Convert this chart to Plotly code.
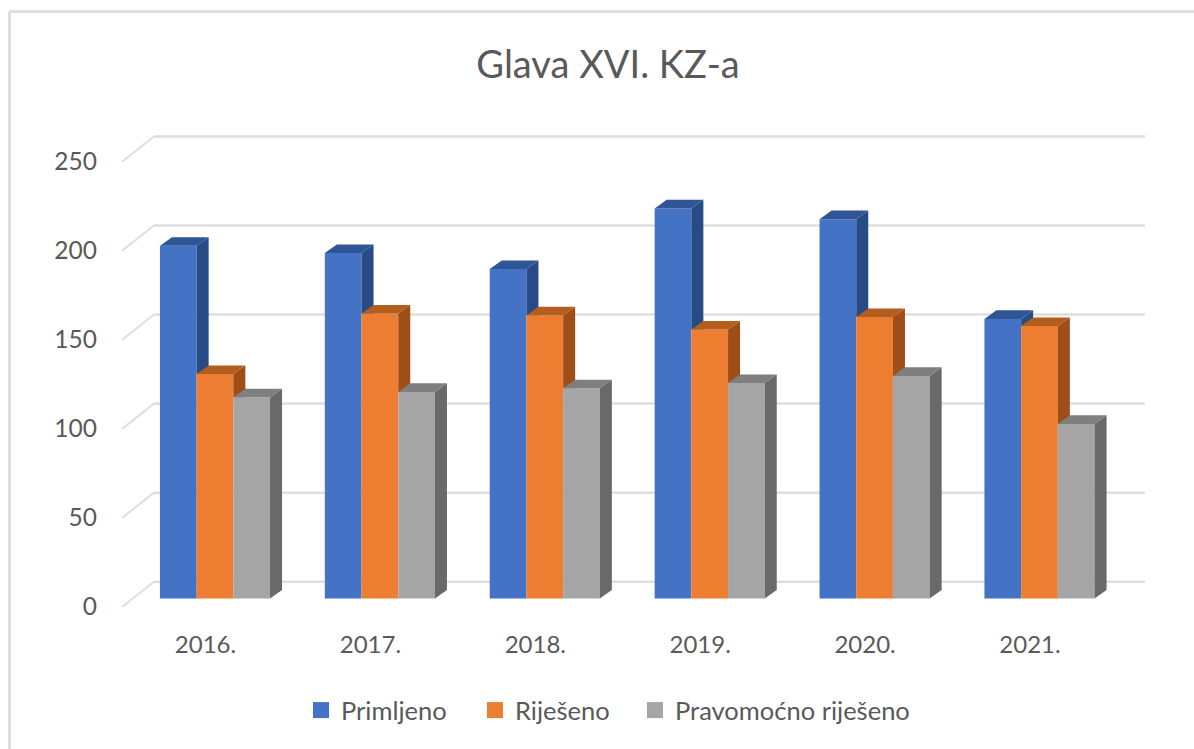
import plotly.graph_objects as go

# ---- data ----
years = ["2016.", "2017.", "2018.", "2019.", "2020.", "2021."]
primljeno = [198, 194, 185, 219, 213, 157]
rijeseno = [126, 160, 159, 151, 158, 153]
pravomocno = [113, 116, 118, 121, 125, 98]
y_ticks = [0, 50, 100, 150, 200, 250]
series_names = ["Primljeno", "Riješeno", "Pravomoćno riješeno"]

# ---- styles ----
front_colors = ["#4472C4", "#ED7D31", "#A5A5A5"]
top_colors = ["#2F5597", "#B35D1F", "#7F7F7F"]
side_colors = ["#274B85", "#9E4E17", "#696969"]
TEXT = "#595959"
GRID = "#DEDEDE"
FONT = "Lato"

# ---- pseudo-3D geometry (in axis units) ----
W, H = 1194, 749
PLOT_L, PLOT_R, PLOT_T, PLOT_B = 122, 1145, 130, 607
X_UNIT = 164.9           # px per category
Y_UNIT = 1.781           # px per value
X0_PX, BASE_PX = 215, 598.5
BAR_W = 36.7 / X_UNIT
DX = 12 / X_UNIT         # bar depth
DY = 8.6 / Y_UNIT
XR = [(PLOT_L - X0_PX) / X_UNIT, (PLOT_R - X0_PX) / X_UNIT]
YR = [(BASE_PX - PLOT_B) / Y_UNIT, (BASE_PX - PLOT_T) / Y_UNIT]
WALL_X = (154 - X0_PX) / X_UNIT
WALL_DY = (BASE_PX - 581.7) / Y_UNIT
FRONT_DY = (BASE_PX - PLOT_B) / Y_UNIT
LABEL_SHIFT = 9.5 / X_UNIT
LEGEND_LEFTS = [301, 475, 635]
LEGEND_TOP = 687

all_series = [primljeno, rijeseno, pravomocno]
idx = list(range(len(years)))

fig = go.Figure()

# front faces
for k, vals in enumerate(all_series):
    fig.add_trace(go.Bar(x=idx, y=vals, name=series_names[k], marker_color=front_colors[k],
                         marker_line_width=0, showlegend=False, offsetgroup=str(k)))

# side and top faces, painted in series order
for k, vals in enumerate(all_series):
    sx, sy, tx, ty = [], [], [], []
    for i, h in enumerate(vals):
        x0 = i + (k - 1.5) * BAR_W
        x1 = x0 + BAR_W
        low = all_series[k + 1][i] if k + 1 < len(all_series) else 0
        if h > low or k + 1 == len(all_series):
            low_right = low if low > 0 else DY
            sx += [x1, x1 + DX, x1 + DX, x1, x1, None]
            sy += [low, low_right, h + DY, h, low, None]
        tx += [x0, x0 + DX, x1 + DX, x1, x0, None]
        ty += [h, h + DY, h + DY, h, h, None]
    fig.add_trace(go.Scatter(x=sx, y=sy, mode="lines", line_width=0, fill="toself",
                             fillcolor=side_colors[k], hoverinfo="skip", showlegend=False))
    fig.add_trace(go.Scatter(x=tx, y=ty, mode="lines", line_width=0, fill="toself",
                             fillcolor=top_colors[k], hoverinfo="skip", showlegend=False))

# legend entries, one legend each so that every entry keeps its own place
legend_keys = ["legend", "legend2", "legend3"]
for k, name in enumerate(series_names):
    fig.add_trace(go.Scatter(x=[None], y=[None], mode="markers", name=name, legend=legend_keys[k],
                             marker=dict(symbol="square", size=16, color=front_colors[k])))

# back wall gridlines and their diagonal floor-side returns
shapes = []
for t in y_ticks:
    shapes.append(dict(type="line", layer="below", xref="x", yref="y", x0=WALL_X, x1=XR[1],
                       y0=t + WALL_DY, y1=t + WALL_DY, line=dict(color=GRID, width=2.5)))
    shapes.append(dict(type="line", layer="below", xref="x", yref="y", x0=XR[0], x1=WALL_X,
                       y0=t + FRONT_DY, y1=t + WALL_DY, line=dict(color=GRID, width=2)))

# outer frame of the chart, running off the picture on the right and bottom
def px_x(p):
    return (p - PLOT_L) / (PLOT_R - PLOT_L)
def px_y(p):
    return (PLOT_B - p) / (PLOT_B - PLOT_T)
shapes.append(dict(type="line", xref="paper", yref="paper", x0=px_x(9.5), x1=px_x(W),
                   y0=px_y(11.5), y1=px_y(11.5), line=dict(color="#DEDEDE", width=3)))
shapes.append(dict(type="line", xref="paper", yref="paper", x0=px_x(9.5), x1=px_x(9.5),
                   y0=px_y(11.5), y1=px_y(H), line=dict(color="#DEDEDE", width=3)))

def legend_at(left):
    return dict(orientation="h", x=px_x(left), xanchor="left", y=px_y(LEGEND_TOP), yanchor="top",
                font=dict(family=FONT, size=25.5, color=TEXT), bgcolor="rgba(0,0,0,0)",
                itemwidth=30, itemclick=False, itemdoubleclick=False)

fig.update_layout(
    width=W, height=H, autosize=False,
    margin=dict(l=PLOT_L, r=W - PLOT_R, t=PLOT_T, b=H - PLOT_B, pad=0),
    paper_bgcolor="white", plot_bgcolor="rgba(0,0,0,0)",
    barmode="group", bargap=1 - 3 * BAR_W, bargroupgap=0,
    shapes=shapes,
    title=dict(text="Glava XVI. KZ-a", x=608 / W, xanchor="center", xref="container",
               y=1 - 65 / H, yanchor="middle", yref="container",
               font=dict(family=FONT, size=38, color=TEXT)),
    legend=legend_at(LEGEND_LEFTS[0]),
    legend2=legend_at(LEGEND_LEFTS[1]),
    legend3=legend_at(LEGEND_LEFTS[2]),
    xaxis=dict(range=XR, tickmode="array", tickvals=[i - LABEL_SHIFT for i in idx], ticktext=years,
               showgrid=False, zeroline=False, showline=False, ticks="",
               ticklabelstandoff=21, tickfont=dict(family=FONT, size=24, color=TEXT)),
    yaxis=dict(range=YR, tickmode="array", tickvals=[t - 4.5 for t in y_ticks],
               ticktext=[str(t) for t in y_ticks],
               showgrid=False, zeroline=False, showline=False, ticks="",
               ticklabelstandoff=24, tickfont=dict(family=FONT, size=24.5, color=TEXT)),
)

fig.write_html("out.html", config={"displayModeBar": False},
               post_script="document.body.style.margin='0';document.documentElement.style.overflow='hidden';")
